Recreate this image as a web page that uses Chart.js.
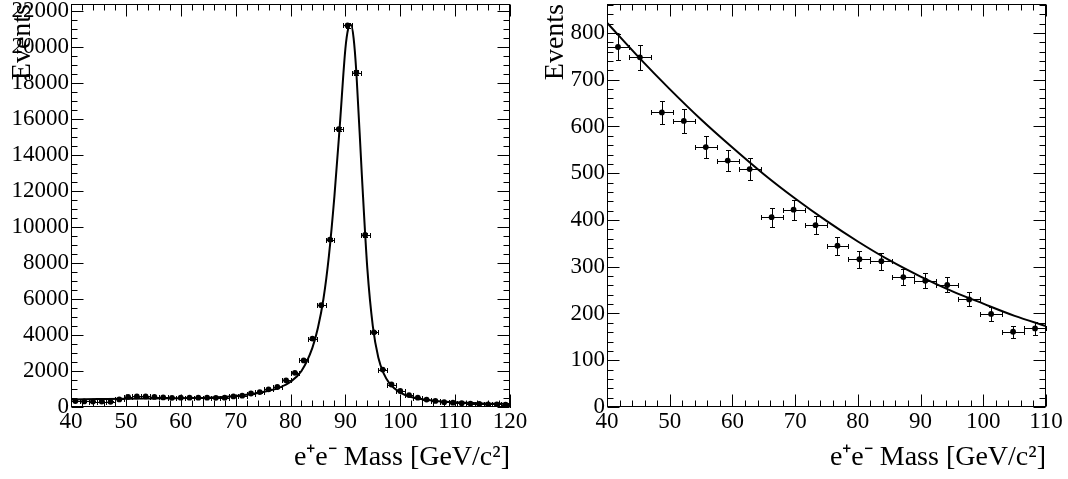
<!DOCTYPE html>
<html>
<head>
<meta charset="utf-8">
<script src="https://cdn.jsdelivr.net/npm/chart.js@4/dist/chart.umd.min.js"></script>
<style>
html,body{margin:0;padding:0;background:#fff;overflow:hidden;width:1068px;height:479px;}
.pane{position:absolute;top:0;}
</style>
</head>
<body>
<div class="pane" style="left:0px"><canvas id="c1" width="534" height="479"></canvas></div>
<div class="pane" style="left:536px"><canvas id="c2" width="534" height="479"></canvas></div>
<script>
// ---------- Left panel: Z peak ----------
const leftMass = [40.8,42.4,44.0,45.6,47.2,48.8,50.4,52.0,53.6,55.2,56.8,58.4,60.0,61.6,63.2,64.8,66.4,68.0,69.6,71.2,
                  72.8,74.4,76.0,77.6,79.2,80.8,82.4,84.0,85.6,87.2,88.8,90.4,92.0,93.6,95.2,96.8,98.4,100.0,101.6,103.2,
                  104.8,106.4,108.0,109.6,111.2,112.8,114.4,116.0,117.6,119.2];
const leftEvents = [330,310,300,300,290,420,560,590,590,560,530,510,520,520,520,520,510,520,590,630,
                    750,830,980,1110,1480,1900,2590,3800,5660,9300,15440,21200,18580,9560,4150,2080,1250,890,660,520,
                    410,340,270,240,210,190,170,150,140,130];
const leftErr = [18,18,17,17,17,20,24,24,24,24,23,23,23,23,23,23,23,23,24,25,
                 27,29,31,33,38,44,51,62,75,96,124,146,136,98,64,46,35,30,26,23,
                 20,18,16,15,14,14,13,12,12,11];
const leftBinHalf = 0.8;
const leftFitMass = [40,45,50,55,60,65,70,73,76,78,80,82,84,85,86,87,88,89,90,90.5,91,91.5,92,93,94,95,96,97,98,100,102,105,110,115,120];
const leftFitEvents = [420,440,460,475,490,520,610,720,900,1080,1400,2000,3300,4400,6000,8400,11700,15700,19900,21000,21250,20500,18600,12900,7700,4500,2750,1850,1330,800,560,390,260,200,170];
const leftXTicks = [40,50,60,70,80,90,100,110,120];
const leftYTicks = [0,2000,4000,6000,8000,10000,12000,14000,16000,18000,20000,22000];

// ---------- Right panel: background ----------
const rightMass = [41.75,45.25,48.75,52.25,55.75,59.25,62.75,66.25,69.75,73.25,76.75,80.25,83.75,87.25,90.75,94.25,97.75,101.25,104.75,108.25];
const rightEvents = [770,748,630,612,556,527,509,406,422,389,345,316,312,278,270,261,230,199,161,168];
const rightErr = [28,27,25,25,24,23,23,20,21,20,19,18,18,17,16,16,15,14,13,13];
const rightBinHalf = 1.75;
const rightFitMass = [40,45,50,55,60,65,70,75,80,85,90,95,100,105,110];
const rightFitEvents = [822,749,680,615,555,498,446,398,354,314,279,248,221,195,173];
const rightXTicks = [40,50,60,70,80,90,100,110];
const rightYTicks = [0,100,200,300,400,500,600,700,800];

const FONT = "'Liberation Serif','Times New Roman',serif";
Chart.defaults.color = '#000';
Chart.defaults.font.family = FONT;

const errorBars = {
  id: 'errorBars',
  afterDatasetsDraw(chart, args, o) {
    const {ctx, scales:{x, y}} = chart;
    const ds = chart.data.datasets[1];
    ctx.save();
    ctx.strokeStyle = '#000';
    ctx.lineWidth = 1;
    const cap = 2.5;
    ds.data.forEach((p, i) => {
      const px = Math.round(x.getPixelForValue(p.x)) + 0.5;
      const py = Math.round(y.getPixelForValue(p.y)) + 0.5;
      const x1 = Math.round(x.getPixelForValue(p.x - o.xHalf)) + 0.5;
      const x2 = Math.round(x.getPixelForValue(p.x + o.xHalf)) + 0.5;
      const y1 = Math.round(y.getPixelForValue(p.y - o.yErr[i])) + 0.5;
      const y2 = Math.round(y.getPixelForValue(p.y + o.yErr[i])) + 0.5;
      ctx.beginPath();
      ctx.moveTo(x1, py); ctx.lineTo(x2, py);
      ctx.moveTo(x1, py - cap); ctx.lineTo(x1, py + cap);
      ctx.moveTo(x2, py - cap); ctx.lineTo(x2, py + cap);
      ctx.moveTo(px, y1); ctx.lineTo(px, y2);
      ctx.moveTo(px - cap, y1); ctx.lineTo(px + cap, y1);
      ctx.moveTo(px - cap, y2); ctx.lineTo(px + cap, y2);
      ctx.stroke();
    });
    ctx.restore();
  }
};

const rootFrame = {
  id: 'rootFrame',
  afterDraw(chart, args, o) {
    const {ctx, chartArea:{left, right, top, bottom}, scales:{x, y}} = chart;
    ctx.save();
    ctx.strokeStyle = '#000';
    ctx.lineWidth = 1;
    const L = Math.round(left) + 0.5, R = Math.round(right) - 0.5;
    const T = Math.round(top) + 0.5, B = Math.round(bottom) - 0.5;
    ctx.strokeRect(L, T, R - L, B - T);
    ctx.beginPath();
    const nx = Math.round((x.max - x.min) / o.xMinor);
    for (let k = 0; k <= nx; k++) {
      const v = x.min + k * o.xMinor;
      const len = (k % o.xPer === 0) ? 12 : 6;
      const px = Math.round(x.getPixelForValue(v)) + 0.5;
      ctx.moveTo(px, B); ctx.lineTo(px, B - len);
      ctx.moveTo(px, T); ctx.lineTo(px, T + len);
    }
    for (let k = 0; ; k++) {
      const v = y.min + k * o.yMinor;
      if (v > y.max) break;
      const len = (k % o.yPer === 0) ? 12 : 6;
      const py = Math.round(y.getPixelForValue(v)) + 0.5;
      ctx.moveTo(L, py); ctx.lineTo(L + len, py);
      ctx.moveTo(R, py); ctx.lineTo(R - len, py);
    }
    ctx.stroke();
    ctx.restore();
  }
};

function zeroPad(s) { s.paddingTop = 0; s.paddingBottom = 0; s.paddingLeft = 0; s.paddingRight = 0; }

function makeChart(id, cfg) {
  return new Chart(document.getElementById(id), {
    data: {
      datasets: [
        {
          type: 'line',
          data: cfg.fitX.map((v, i) => ({x: v, y: cfg.fitY[i]})),
          borderColor: '#000',
          borderWidth: 2,
          pointRadius: 0,
          fill: false,
          cubicInterpolationMode: 'monotone',
          order: 2
        },
        {
          type: 'scatter',
          data: cfg.x.map((v, i) => ({x: v, y: cfg.y[i]})),
          pointRadius: 2.9,
          pointBackgroundColor: '#000',
          pointBorderWidth: 0,
          order: 1
        }
      ]
    },
    options: {
      responsive: false,
      animation: false,
      events: [],
      layout: { autoPadding: false, padding: {top: 4, right: 24, bottom: 0, left: 0} },
      plugins: {
        legend: {display: false},
        tooltip: {enabled: false},
        errorBars: {xHalf: cfg.xHalf, yErr: cfg.err},
        rootFrame: {xMinor: 2, xPer: 5, yMinor: cfg.yMinor, yPer: cfg.yPer}
      },
      scales: {
        x: {
          type: 'linear',
          min: cfg.xMin, max: cfg.xMax,
          grid: {display: false, drawTicks: false, tickLength: 0},
          border: {display: false},
          afterBuildTicks: s => { s.ticks = cfg.xTicks.map(v => ({value: v})); },
          afterFit: s => { s.height = 72; zeroPad(s); },
          ticks: { padding: 1, font: {size: 23, family: FONT}, color: '#000', callback: v => String(v), maxRotation: 0, autoSkip: false },
          title: { display: true, text: 'e⁺e⁻ Mass [GeV/c²]', align: 'end', color: '#000',
                   font: {size: 28, family: FONT}, padding: {top: 0, bottom: 5} }
        },
        y: {
          type: 'linear',
          min: 0, max: cfg.yMax,
          grid: {display: false, drawTicks: false, tickLength: 0},
          border: {display: false},
          afterBuildTicks: s => { s.ticks = cfg.yTicks.map(v => ({value: v})); },
          afterFit: s => { s.width = 71; zeroPad(s); },
          ticks: { padding: 2, font: {size: 23, family: FONT}, color: '#000', callback: v => String(v), autoSkip: false },
          title: { display: true, text: 'Events', align: 'end', color: '#000',
                   font: {size: 28, family: FONT}, padding: {top: cfg.titlePad, bottom: 0} }
        }
      }
    },
    plugins: [errorBars, rootFrame]
  });
}

makeChart('c1', {
  x: leftMass, y: leftEvents, err: leftErr, xHalf: leftBinHalf,
  fitX: leftFitMass, fitY: leftFitEvents,
  xMin: 40, xMax: 120, yMax: 22390, xTicks: leftXTicks, yTicks: leftYTicks,
  yMinor: 500, yPer: 4, titlePad: 6
});
makeChart('c2', {
  x: rightMass, y: rightEvents, err: rightErr, xHalf: rightBinHalf,
  fitX: rightFitMass, fitY: rightFitEvents,
  xMin: 40, xMax: 110, yMax: 862, xTicks: rightXTicks, yTicks: rightYTicks,
  yMinor: 20, yPer: 5, titlePad: 3
});
</script>
</body>
</html>
